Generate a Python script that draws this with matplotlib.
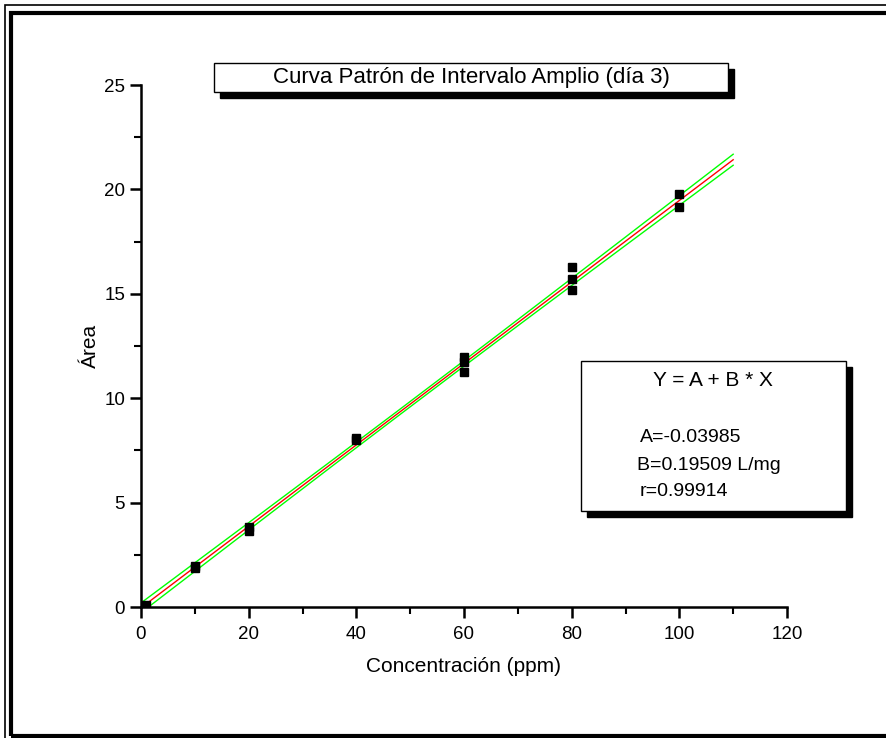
import matplotlib.pyplot as plt
import numpy as np
from matplotlib.patches import Rectangle

plt.rcParams['font.family'] = ['Liberation Sans', 'DejaVu Sans']

# Standard curve data (day 3)
conc = [1, 10, 10, 20, 20, 40, 40, 60, 60, 60, 80, 80, 80, 100, 100]
area = [0.1, 1.85, 1.95, 3.65, 3.85, 8.0, 8.1, 11.25, 11.75, 11.95,
        15.2, 15.7, 16.3, 19.15, 19.8]

# Fit parameters as reported
A = -0.03985
B = 0.19509
r = 0.99914

x = np.array(conc, dtype=float)
y = np.array(area, dtype=float)

# regression line and confidence band
xf = np.linspace(0, 110, 200)
yf = A + B * xf
n = len(x)
resid = y - (A + B * x)
s = np.sqrt(np.sum(resid ** 2) / (n - 2))
t_band = 1.5
sxx = np.sum((x - x.mean()) ** 2)
band = t_band * s * np.sqrt(1.0 / n + (xf - x.mean()) ** 2 / sxx)

fig = plt.figure(figsize=(8.86, 7.38), dpi=100)
W, H = 886, 738
ax = fig.add_axes([141 / W, 1 - 607 / H, (787 - 141) / W, (607 - 85) / H])

ax.plot(xf, yf + band, color='#00ff00', lw=1)
ax.plot(xf, yf - band, color='#00ff00', lw=1)
ax.plot(xf, yf, color='red', lw=1)
ax.plot(x, y, 's', color='black', ms=5.5, zorder=5)

ax.set_xlim(0, 120)
ax.set_ylim(0, 25)
ax.set_xticks(np.arange(0, 121, 20))
ax.set_xticks(np.arange(0, 121, 10), minor=True)
ax.set_yticks(np.arange(0, 26, 5))
ax.set_yticks(np.arange(0, 26, 2.5), minor=True)
ax.spines['top'].set_visible(False)
ax.spines['right'].set_visible(False)
for sp in ['left', 'bottom']:
    ax.spines[sp].set_linewidth(1.8)
ax.tick_params(which='major', direction='out', length=8, width=1.8, labelsize=13.5)
ax.tick_params(axis='x', which='major', pad=6)
ax.tick_params(which='minor', direction='out', length=5, width=1.5)
ax.set_xlabel('Concentración (ppm)', fontsize=15, labelpad=10)
ax.set_ylabel('Área', fontsize=15, labelpad=3)
ax.patch.set_visible(False)

# boxes with drop shadow
def shadow_box(x0, y0, x1, y1, off=6):
    fig.patches.append(Rectangle((x0 / W + off / W, 1 - y1 / H - off / H),
                                 (x1 - x0) / W, (y1 - y0) / H,
                                 transform=fig.transFigure, facecolor='black',
                                 edgecolor='black', zorder=1))
    fig.patches.append(Rectangle((x0 / W, 1 - y1 / H), (x1 - x0) / W, (y1 - y0) / H,
                                 transform=fig.transFigure, facecolor='white',
                                 edgecolor='black', lw=1, zorder=2))

shadow_box(214, 63, 728, 92)
fig.text((214 + 728) / 2 / W, 1 - 77 / H, 'Curva Patrón de Intervalo Amplio (día 3)',
         ha='center', va='center', fontsize=16, zorder=3)

shadow_box(581, 361, 846, 511)
fig.text(713 / W, 1 - 381 / H, 'Y = A + B * X', ha='center', va='center',
         fontsize=15, zorder=3)
fig.text(640 / W, 1 - 438 / H, f'A={A}', ha='left', va='center', fontsize=14, zorder=3)
fig.text(637 / W, 1 - 465 / H, f'B={B} L/mg', ha='left', va='center', fontsize=14, zorder=3)
fig.text(640 / W, 1 - 492 / H, f'r={r}', ha='left', va='center', fontsize=14, zorder=3)

# double frame around the whole figure
fig.patches.append(Rectangle((5 / W, 1 - 900 / H), 900 / W, 895 / H,
                             transform=fig.transFigure, fill=False,
                             edgecolor='black', lw=1.2, zorder=0))
fig.patches.append(Rectangle((10.5 / W, 2.5 / H), 900 / W, (738 - 13 - 2.5) / H,
                             transform=fig.transFigure, fill=False,
                             edgecolor='black', lw=3, zorder=0))

fig.savefig('out.png', dpi=100)
